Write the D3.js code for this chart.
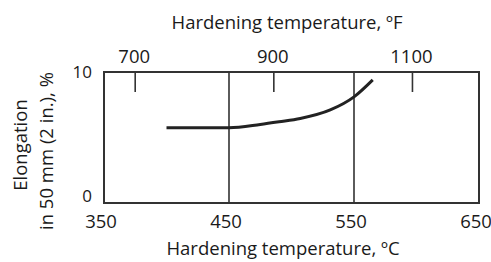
<!DOCTYPE html>
<html lang="en">
<head>
    <meta charset="UTF-8">
    <title>Elongation vs hardening temperature</title>
    <style>
        body { margin: 0; background: #fff; }
        svg text { font-family: "Open Sans", sans-serif; fill: #1a1a1a; }
    </style>
</head>
<body>
    <div id="chart"></div>
    <script src="https://d3js.org/d3.v7.min.js"></script>
    <script>
        // Data
        const tempC = [400, 450, 475, 490, 507, 531, 550, 565];
        const elongation = [5.75, 5.75, 6.0, 6.2, 6.45, 7.1, 8.1, 9.4];
        const cTicks = [350, 450, 550, 650];
        const fTicks = [700, 900, 1100];
        const yTicks = [0, 10];

        const W = 491, H = 262;
        const plot = { left: 104, right: 479, top: 72, bottom: 203 };

        const svg = d3.select("#chart").append("svg")
            .attr("width", W).attr("height", H);

        const x = d3.scaleLinear().domain([350, 650]).range([plot.left, plot.right]);
        // top axis in °F (ticks sit a few px right of the exact conversion in the original)
        const xF = d3.scaleLinear().domain([655, 1196]).range([plot.left, plot.right]);
        const y = d3.scaleLinear().domain([0, 10]).range([plot.bottom, plot.top]);

        // frame
        svg.append("rect")
            .attr("x", plot.left).attr("y", plot.top)
            .attr("width", plot.right - plot.left).attr("height", plot.bottom - plot.top)
            .attr("fill", "none").attr("stroke", "#333").attr("stroke-width", 2);

        // vertical grid at inner °C ticks
        svg.selectAll(".grid").data(cTicks.slice(1, -1)).enter().append("line")
            .attr("x1", d => x(d)).attr("x2", d => x(d))
            .attr("y1", plot.top).attr("y2", plot.bottom)
            .attr("stroke", "#333").attr("stroke-width", 1.6);

        // bottom °C labels
        svg.selectAll(".cLab").data(cTicks).enter().append("text")
            .attr("x", d => x(d) - 3).attr("y", 228)
            .attr("text-anchor", "middle").style("font-size", "18.5px")
            .text(d => d);

        // top °F ticks and labels
        svg.selectAll(".fTick").data(fTicks).enter().append("line")
            .attr("x1", d => xF(d)).attr("x2", d => xF(d))
            .attr("y1", plot.top).attr("y2", plot.top + 20)
            .attr("stroke", "#333").attr("stroke-width", 1.6);
        svg.selectAll(".fLab").data(fTicks).enter().append("text")
            .attr("x", d => xF(d) - 1).attr("y", 63)
            .attr("text-anchor", "middle").style("font-size", "18.5px")
            .text(d => d);

        // y labels
        svg.selectAll(".yLab").data(yTicks).enter().append("text")
            .attr("x", 92).attr("y", d => d === 0 ? y(d) - 1 : y(d) + 6)
            .attr("text-anchor", "end").style("font-size", "17px")
            .text(d => d);

        // axis titles
        svg.append("text").attr("x", 287).attr("y", 29)
            .attr("text-anchor", "middle").style("font-size", "18.5px")
            .text("Hardening temperature, ºF");
        svg.append("text").attr("x", 283).attr("y", 255)
            .attr("text-anchor", "middle").style("font-size", "18.5px")
            .text("Hardening temperature, ºC");
        svg.append("text").attr("transform", "translate(27,145) rotate(-90)")
            .attr("text-anchor", "middle").style("font-size", "18.5px")
            .text("Elongation");
        svg.append("text").attr("transform", "translate(53,151) rotate(-90)")
            .attr("text-anchor", "middle").style("font-size", "18.5px")
            .text("in 50 mm (2 in.), %");

        // curve
        const line = d3.line()
            .x((d, i) => x(tempC[i]))
            .y(d => y(d))
            .curve(d3.curveMonotoneX);
        svg.append("path")
            .attr("d", line(elongation))
            .attr("fill", "none").attr("stroke", "#222").attr("stroke-width", 3);
    </script>
</body>
</html>
